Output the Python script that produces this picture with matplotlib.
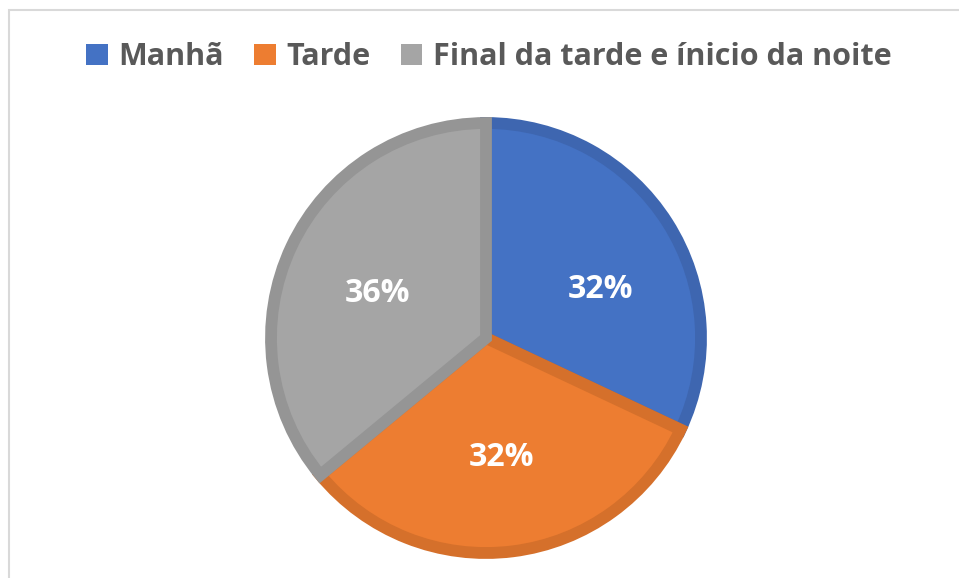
import matplotlib.pyplot as plt
from matplotlib.patches import Patch, Rectangle
import numpy as np

# data
labels = ["Manhã", "Tarde", "Final da tarde e ínicio da noite"]
values = [32, 32, 36]
colors = ["#4472C4", "#ED7D31", "#A5A5A5"]
edge_colors = ["#3E66B0", "#D5702B", "#959595"]

W, H = 959, 578
fig = plt.figure(figsize=(W / 100, H / 100), dpi=100)

# light frame, only left and top edges visible
fig.add_artist(Rectangle((9 / W, -0.1), 1.2, (H - 10) / H + 0.1,
                         transform=fig.transFigure, fill=False,
                         edgecolor="#D9D9D9", linewidth=1.5))

# pie axes: centre (486, 338) px from top-left, radius ~215 px
cx, cy, r = 486, H - 338, 215
half = r * 1.1
ax = fig.add_axes([(cx - half) / W, (cy - half) / H, 2 * half / W, 2 * half / H])
wedges, texts, autotexts = ax.pie(
    values, colors=colors, startangle=90, counterclock=False,
    autopct="%1.0f%%", pctdistance=0.56,
    wedgeprops=dict(linewidth=8.5, joinstyle="miter"),
    textprops=dict(color="white", fontsize=23, fontweight="bold", family="Open Sans"),
)
for w, ec in zip(wedges, edge_colors):
    w.set_edgecolor(ec)
# Excel puts the first label a bit lower than the mid-angle
ang = np.deg2rad(23)
autotexts[0].set_position((0.58 * np.cos(ang), 0.58 * np.sin(ang)))
x, y = autotexts[2].get_position()
autotexts[2].set_position((x, y - 0.03))
ax.set_xlim(-1.1, 1.1)
ax.set_ylim(-1.1, 1.1)
ax.set_aspect("equal")
ax.axis("off")

handles = [Patch(facecolor=c, edgecolor="none") for c in colors]
fig.legend(handles, labels, loc="center", bbox_to_anchor=(489 / W, (H - 57) / H),
           ncol=3, frameon=False, handlelength=0.7, handleheight=0.7,
           handletextpad=0.35, columnspacing=1.0,
           prop=dict(family="Open Sans", weight="bold", size=22), labelcolor="#595959")

fig.savefig("out.png", dpi=100)
